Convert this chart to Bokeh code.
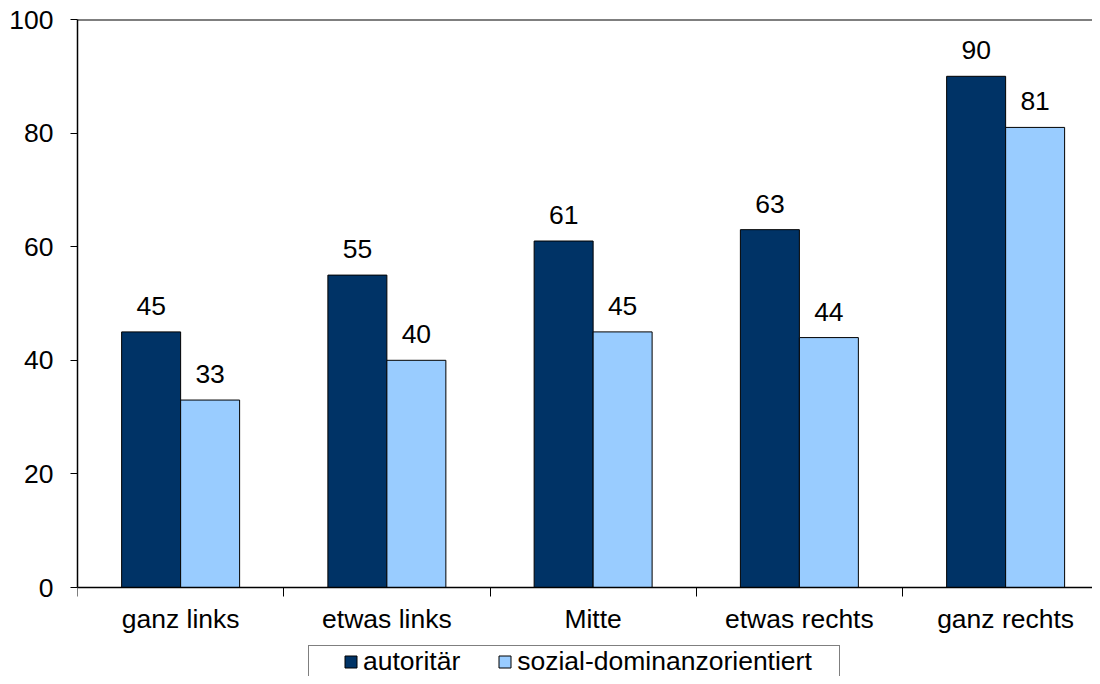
from bokeh.plotting import figure
from bokeh.models import (ColumnDataSource, FixedTicker, Span, Legend, LegendItem, Range1d)
from bokeh.core.properties import value
from bokeh.embed import file_html
from bokeh.resources import INLINE

categories = ["ganz links", "etwas links", "Mitte", "etwas rechts", "ganz rechts"]
autoritaer = [45, 55, 61, 63, 90]
sozial = [33, 40, 45, 44, 81]
series_names = ["autoritär", "sozial-dominanzorientiert"]
colors = ["#003366", "#99CCFF"]
y_ticks = [0, 20, 40, 60, 80, 100]

FONT = "Liberation Sans"
FS = "26.5px"
bw = 0.286
centers = [i + 0.5 for i in range(len(categories))]

# frame runs from the top line down to the canvas bottom; 0 sits 89px above it
y_start = -(676 - 587) / 5.68
p = figure(width=1092, height=676, output_backend="svg", toolbar_location=None,
           x_range=Range1d(0, 1015 / 206.25), y_range=Range1d(y_start, 100),
           min_border_left=77, min_border_top=19, min_border_right=0, min_border_bottom=0)
p.outline_line_color = None
p.xgrid.visible = False
p.ygrid.visible = False
p.background_fill_color = "white"
p.border_fill_color = "white"

src_a = ColumnDataSource(dict(x=[c - bw / 2 for c in centers], top=autoritaer,
                              lab=[str(v) for v in autoritaer]))
src_s = ColumnDataSource(dict(x=[c + bw / 2 for c in centers], top=sozial,
                              lab=[str(v) for v in sozial]))

ra = p.vbar(x="x", top="top", bottom=0, width=bw, source=src_a, fill_color=colors[0],
            line_color="black", line_width=1)
rs = p.vbar(x="x", top="top", bottom=0, width=bw, source=src_s, fill_color=colors[1],
            line_color="black", line_width=1)

for src in (src_a, src_s):
    p.text(x="x", y="top", text="lab", source=src, text_align="center",
           text_baseline="middle", y_offset=-26, text_font=value(FONT),
           text_font_size=FS, text_color="black")

p.add_layout(Span(location=100, dimension="width", line_color="black", line_width=2))

# x axis, fixed at y = 0
p.xaxis.fixed_location = 0
p.xaxis.ticker = FixedTicker(ticks=centers, minor_ticks=list(range(len(categories) + 1)))
p.xaxis.major_label_overrides = {c: n for c, n in zip(centers, categories)}
p.xaxis.major_tick_line_color = None
p.xaxis.minor_tick_line_color = "black"
p.xaxis.minor_tick_out = 9
p.xaxis.minor_tick_in = 0
p.xaxis.axis_line_color = "black"
p.xaxis.axis_line_width = 1.5
p.xaxis.major_label_text_font = FONT
p.xaxis.major_label_text_font_size = FS
p.xaxis.major_label_text_color = "black"
p.xaxis.major_label_standoff = 7

# y axis
p.yaxis.bounds = (0, 100)
p.yaxis.ticker = FixedTicker(ticks=y_ticks)
p.yaxis.minor_tick_line_color = None
p.yaxis.major_tick_out = 7
p.yaxis.major_tick_in = 0
p.yaxis.axis_line_width = 1.5
p.yaxis.axis_line_color = "black"
p.yaxis.major_label_text_font = FONT
p.yaxis.major_label_text_font_size = FS
p.yaxis.major_label_text_color = "black"
p.yaxis.major_label_standoff = 17

# legend frame (a label-less legend used only as the box)
dummy = p.scatter(x=[], y=[], fill_alpha=0, line_alpha=0)
frame_legend = Legend(items=[LegendItem(label=" ", renderers=[dummy])],
                      location=(231, -14), glyph_width=1, glyph_height=1,
                      label_standoff=0, label_width=529, label_height=43,
                      label_text_font_size="2px", padding=0, margin=0,
                      border_line_color="black", border_line_width=1.5,
                      background_fill_color="white", background_fill_alpha=1)
p.add_layout(frame_legend, "center")

legend = Legend(items=[LegendItem(label=series_names[0], renderers=[ra]),
                       LegendItem(label=series_names[1], renderers=[rs])],
                orientation="horizontal", location=(266, -1),
                label_text_font=FONT, label_text_font_size=FS, label_text_color="black",
                label_height=26, glyph_width=15, glyph_height=15, label_standoff=5,
                spacing=37, padding=0, margin=0, border_line_color=None,
                background_fill_alpha=0)
p.add_layout(legend, "center")

open("out.html", "w").write(file_html(p, INLINE))
